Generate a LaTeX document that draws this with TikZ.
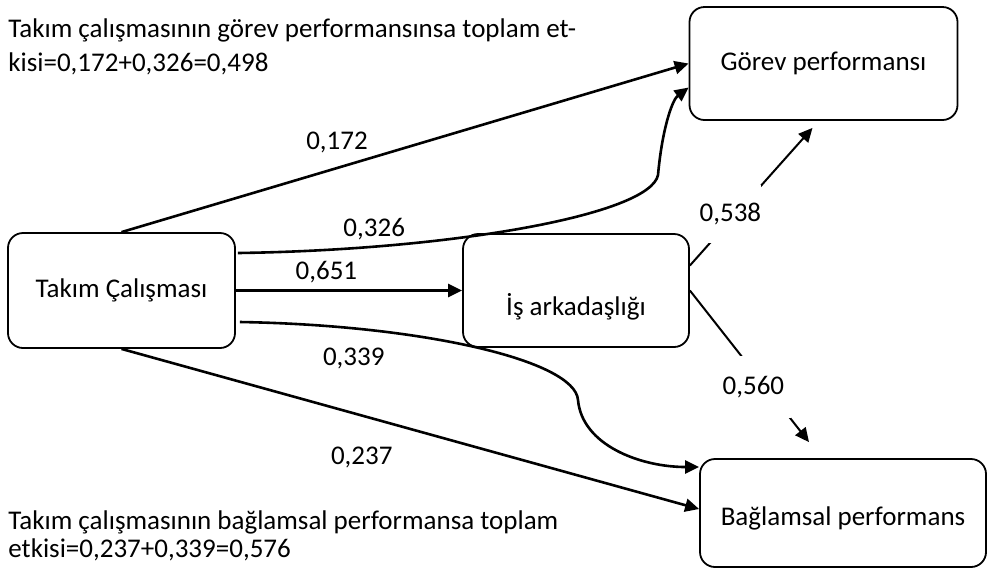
\documentclass[tikz,border=0pt]{standalone}
\usepackage{fontspec}
\setmainfont{Carlito}
\usetikzlibrary{arrows.meta,calc}
\begin{document}
\begin{tikzpicture}[x=0.5pt,y=-0.5pt,font=\fontsize{13.5pt}{16pt}\selectfont,
    box/.style={draw, line width=0.9pt, rounded corners=7.5pt, inner sep=0pt},
    arr/.style={line width=1.3pt, -{Triangle[length=7pt,width=6.5pt]}},
    thinarr/.style={line width=1pt, -{Triangle[length=7pt,width=6.5pt]}},
    gap/.style={fill=white, inner sep=0pt}]
  \useasboundingbox (0,0) rectangle (988,569);
  % boxes
  \node[box, minimum width=113.5pt, minimum height=57.5pt] (tc) at (121.5,290.5) {Takım Çalışması};
  \node[box, minimum width=113pt, minimum height=56.5pt, label={[yshift=-8pt]center:İş arkadaşlığı}] (is) at (576,290.5) {};
  \node[box, minimum width=134pt, minimum height=56.5pt] (gorev) at (823.5,63.5) {Görev performansı};
  \node[box, minimum width=143pt, minimum height=54pt, label={[yshift=-2.5pt]center:Bağlamsal performans}] (bag) at (843,513) {};
  % totals
  \node[anchor=north west, inner sep=0pt, align=left, font=\fontsize{13.5pt}{17pt}\selectfont] (toplamg) at (8,18)
    {Takım çalışmasının görev performansınsa toplam et-\\kisi=0,172+0,326=0,498};
  \node[anchor=north west, inner sep=0pt, align=left, font=\fontsize{13.5pt}{14pt}\selectfont] (toplamb) at (8,510)
    {Takım çalışmasının bağlamsal performansa toplam\\etkisi=0,237+0,339=0,576};
  % paths
  \draw[arr] (tc.north) -- node[pos=.38, yshift=13pt] {0,172} (gorev.west);
  \draw[arr] ($(tc.east)+(2,-37.5)$) .. controls (450,250) and (650,215) .. (658,175)
    node[pos=.22, yshift=9pt] {0,326} .. controls (662,130) and (672,100) .. ($(gorev.west)+(0,24)$);
  \draw[arr] (tc.east) -- node[pos=.4, yshift=9.25pt] {0,651} (is.west);
  \draw[arr] ($(tc.east)+(4,31.5)$) .. controls (420,325) and (575,360) .. (578,400)
    node[pos=.22, yshift=-15pt] {0,339} .. controls (582,445) and (640,467) .. ($(bag.west)+(0,-46)$);
  \draw[arr] (tc.south) -- node[pos=.416, yshift=-21pt] {0,237} ($(bag.west)+(0,-4)$);
  \draw[thinarr] ($(is.east)+(0,-25)$) -- node[gap, pos=.33, yshift=3pt, minimum width=31pt, minimum height=29pt] {0,538} ($(gorev.south)+(-11,7)$);
  \draw[thinarr] (is.east) -- node[gap, pos=.533, yshift=-8pt, minimum width=38pt, minimum height=31pt] {0,560} ($(bag.north)+(-34,-16)$);
\end{tikzpicture}
\end{document}
